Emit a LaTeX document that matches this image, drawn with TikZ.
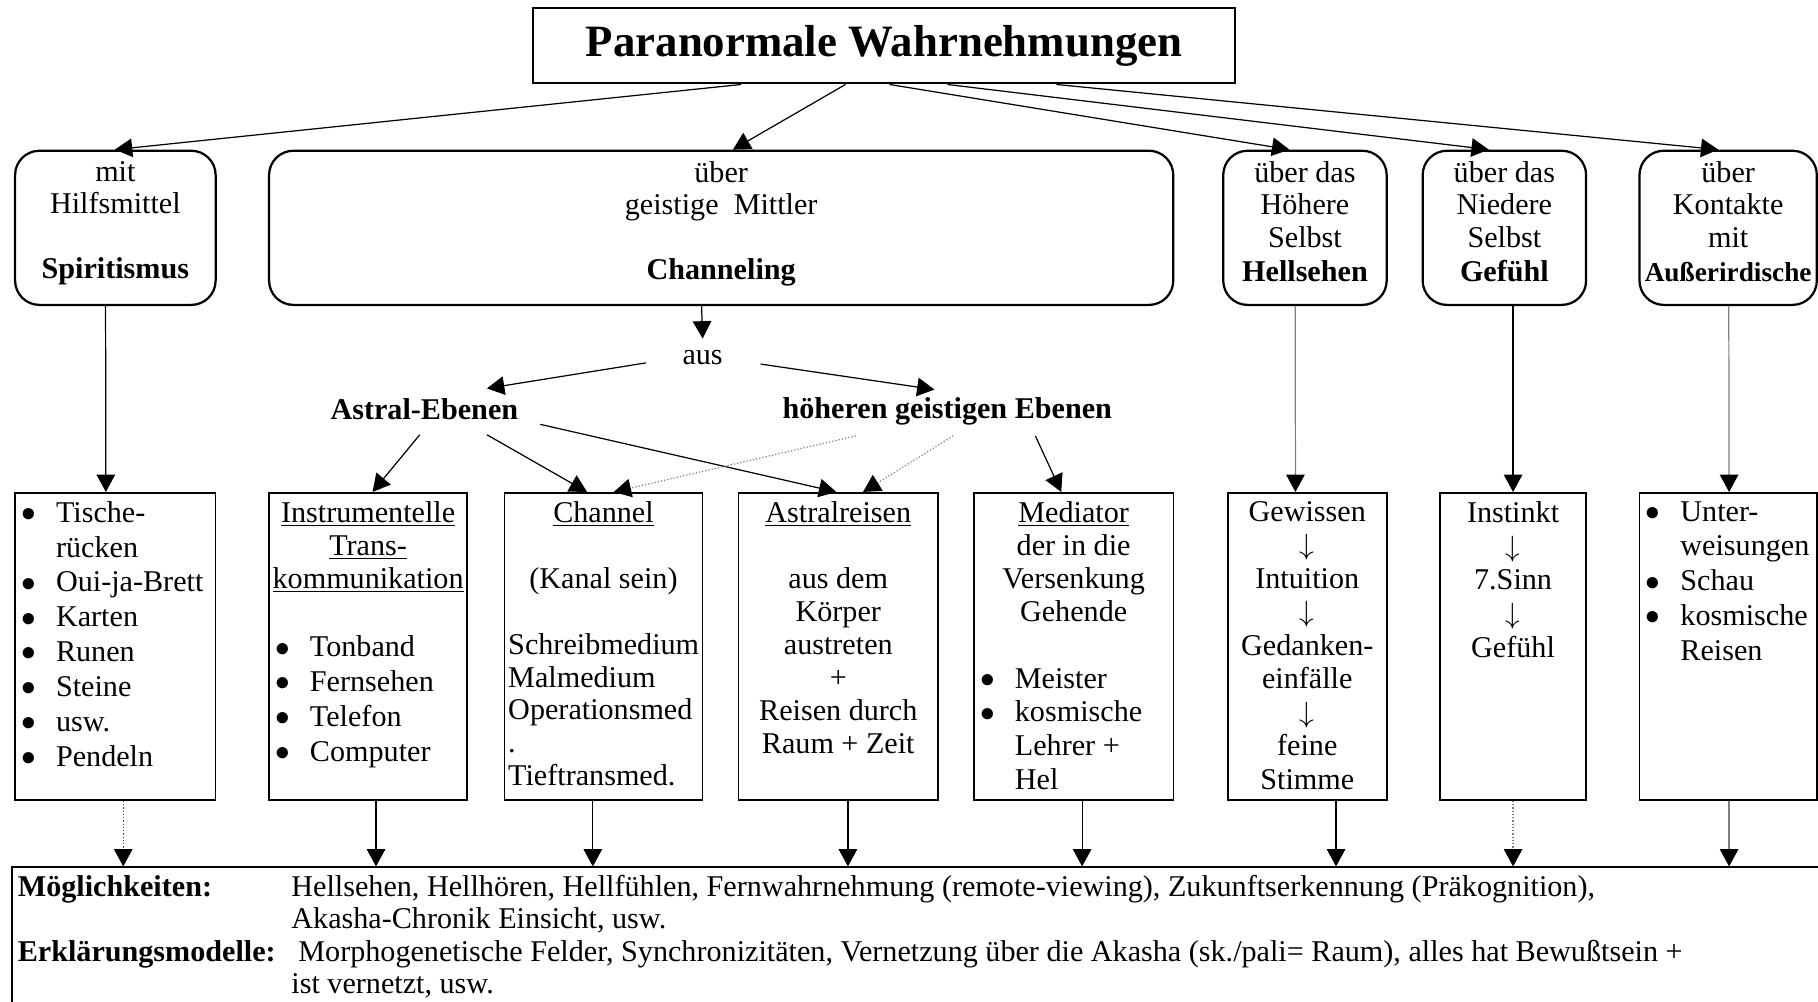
\documentclass[tikz,border=0pt]{standalone}
\usepackage{fontspec}
\setmainfont{Liberation Serif}
\usetikzlibrary{arrows.meta,calc}
\newcommand{\bulx}{\makebox[0.6cm][l]{\raisebox{0.3pt}{$\bullet$}}}
\newcommand{\indx}{\hspace*{0.6cm}}
\newcommand{\dnarr}{$\big\downarrow$}
\begin{document}
\begin{tikzpicture}[x=0.02cm,y=-0.02cm,
  font=\fontsize{14.8}{16.2}\selectfont,
  arr/.style={line width=0.6pt,-{Triangle[length=0.3cm,width=0.32cm,color=black]}},
  grayarr/.style={arr,draw=black!50},
  dotarr/.style={arr,draw=black!50,densely dotted},
  tbox/.style={draw,line width=1pt,inner sep=0pt,font=\fontsize{22}{26}\selectfont\bfseries},
  rbox/.style={draw,rounded corners=0.42cm,line width=1.1pt,inner sep=0pt,minimum height=2.66cm},
  sbox/.style={draw,line width=0.8pt,inner sep=0pt,minimum height=5.3cm},
  ttxt/.style={inner sep=0pt,align=center,anchor=north,font=\fontsize{14.8}{15.9}\selectfont},
  ctxt/.style={inner sep=0pt,align=center,anchor=north},
  ltxt/.style={inner sep=0pt,align=left,anchor=north west,font=\fontsize{14.8}{17.1}\selectfont},
  ptxt/.style={inner sep=0pt},
  btxt/.style={inner sep=0pt,anchor=base west}
]
\fill[white] (0,0) rectangle (1568,864);
\useasboundingbox (0,0) rectangle (1568,864);
\clip (0,0) rectangle (1568,864);

% title
\node[tbox,minimum width=12.1cm,minimum height=1.3cm] (title) at (762.5,39.5) {Paranormale Wahrnehmungen};

% top boxes
\node[rbox,minimum width=3.46cm] (sp) at (99.5,196.5) {};
\node[rbox,minimum width=15.6cm] (ch) at (622,196.5) {};
\node[rbox,minimum width=2.82cm] (hs) at (1125.5,196.5) {};
\node[rbox,minimum width=2.82cm] (gf) at (1297.5,196.5) {};
\node[rbox,minimum width=3.06cm] (ae) at (1490.5,196.5) {};

\node[ttxt] (spt) at (99.5,139) {mit\\Hilfsmittel\\[15.9pt]\textbf{Spiritismus}};
\node[ttxt] (cht) at (622,139) {über\\geistige\ \ Mittler\\[15.9pt]\textbf{Channeling}};
\node[ttxt] (hst) at (1125.5,139) {über das\\Höhere\\Selbst\\[1pt]\textbf{Hellsehen}};
\node[ttxt] (gft) at (1297.5,139) {über das\\Niedere\\Selbst\\[1pt]\textbf{Gefühl}};
\node[ttxt] (aet) at (1490.5,139) {über\\Kontakte\\mit\\[1pt]{\fontsize{13.4}{15.9}\selectfont\textbf{Außerirdische}}};

% middle labels
\node[ptxt] (aus) at (606,308) {aus};
\node[ptxt] (astral) at (366,353) {\textbf{Astral-Ebenen}};
\node[ptxt] (hge) at (817,355) {\textbf{höheren geistigen Ebenen}};

% bottom boxes
\node[sbox,minimum width=3.46cm] (b1) at (99.5,557.5) {};
\node[sbox,minimum width=3.42cm] (b2) at (317.5,557.5) {};
\node[sbox,minimum width=3.42cm] (b3) at (520.5,557.5) {};
\node[sbox,minimum width=3.44cm] (b4) at (723,557.5) {};
\node[sbox,minimum width=3.44cm] (b5) at (926,557.5) {};
\node[sbox,minimum width=2.74cm] (b6) at (1127.5,557.5) {};
\node[sbox,minimum width=2.52cm] (b7) at (1305,557.5) {};
\node[sbox,minimum width=3.06cm] (b8) at (1490.5,557.5) {};

\node[ltxt] (b1t) at (18,432) {\bulx Tische-\\\indx rücken\\\bulx Oui-ja-Brett\\\bulx Karten\\\bulx Runen\\\bulx Steine\\\bulx usw.\\\bulx Pendeln};
\node[ctxt,font=\fontsize{14.8}{16.2}\selectfont] (b2h) at (317.5,432) {\underline{Instrumentelle}\\\underline{Trans-}\\\underline{kommunikation}};
\node[ltxt] (b2l) at (237,548) {\bulx Tonband\\\bulx Fernsehen\\\bulx Telefon\\\bulx Computer};
\node[ctxt,font=\fontsize{14.8}{16.2}\selectfont] (b3h) at (520.5,432) {\underline{Channel}\\[16.2pt](Kanal sein)};
\node[ltxt,font=\fontsize{14.8}{16.1}\selectfont] (b3l) at (438,546) {Schreibmedium\\Malmedium\\Operationsmed\\.\\Tieftransmed.};
\node[ctxt,font=\fontsize{14.8}{16.2}\selectfont] (b4t) at (723,432) {\underline{Astralreisen}\\[16.2pt]aus dem\\Körper\\austreten\\+\\Reisen durch\\Raum + Zeit};
\node[ctxt,font=\fontsize{14.8}{16.2}\selectfont] (b5h) at (926,432) {\underline{Mediator}\\der in die\\Versenkung\\Gehende};
\node[ltxt,font=\fontsize{14.8}{16.5}\selectfont] (b5l) at (845,576) {\bulx Meister\\\bulx kosmische\\\indx Lehrer +\\\indx Hel};
\node[ctxt,font=\fontsize{14.8}{16.44}\selectfont] (b6t) at (1127.5,432) {Gewissen\\\dnarr\\Intuition\\\dnarr\\Gedanken-\\einfälle\\\dnarr\\feine\\Stimme};
\node[ctxt,font=\fontsize{14.8}{16.6}\selectfont] (b7t) at (1305,432) {Instinkt\\\dnarr\\7.Sinn\\\dnarr\\Gefühl};
\node[ltxt] (b8t) at (1419,432) {\bulx Unter-\\\indx weisungen\\\bulx Schau\\\bulx kosmische\\\indx Reisen};

% bottom box
\node[draw,line width=0.8pt,inner sep=0pt,minimum width=31.8cm,minimum height=3.04cm] (bb) at (805,824) {};
\node[btxt] (m1) at (15,773) {\textbf{Möglichkeiten:}};
\node[btxt] (m2) at (251,773) {Hellsehen, Hellhören, Hellfühlen, Fernwahrnehmung (remote-viewing), Zukunftserkennung (Präkognition),};
\node[btxt] (m3) at (251,801) {Akasha-Chronik Einsicht, usw.};
\node[btxt] (e1) at (15,829) {\textbf{Erklärungsmodelle:}};
\node[btxt] (e2) at (257,829) {Morphogenetische Felder, Synchronizitäten, Vernetzung über die Akasha (sk./pali= Raum), alles hat Bewußtsein +};
\node[btxt] (e3) at (251,857) {ist vernetzt, usw.};

% title to top boxes
\draw[arr] ($(title.south west)+(180,0)$) -- ($(sp.north west)+(87,0)$);
\draw[arr] ($(title.south west)+(270,0)$) -- ($(ch.north west)+(401,0)$);
\draw[arr] ($(title.south west)+(308,0)$) -- ($(hs.north west)+(58,0)$);
\draw[arr] ($(title.south west)+(358,0)$) -- ($(gf.north west)+(58,0)$);
\draw[arr] ($(title.south west)+(452,0)$) -- ($(ae.north west)+(69,0)$);

% verticals from top boxes
\draw[arr] ($(sp.south west)+(79,0)$) -- ($(b1.north west)+(79,0)$);
\draw[arr] ($(ch.south west)+(374,0)$) -- ($(aus.center)+(0,-16)$);
\draw[grayarr] ($(hs.south west)+(63,0)$) -- ($(b6.north west)+(59,0)$);
\draw[arr] (gf.south -| b7.north) -- (b7.north);
\draw[grayarr] ($(ae.south west)+(78,0)$) -- ($(b8.north west)+(78,0)$);

% from aus
\draw[arr] ($(aus.center)+(-49,5)$) -- ($(astral.center)+(54,-18)$);
\draw[arr] ($(aus.center)+(50,6)$) -- ($(hge.center)+(-11,-19)$);

% from Astral-Ebenen
\draw[arr] ($(astral.center)+(-4,22)$) -- ($(b2.north west)+(90,0)$);
\draw[arr] ($(astral.center)+(54,22)$) -- ($(b3.north west)+(72,0)$);
\draw[arr] ($(astral.center)+(100,13)$) -- ($(b4.north west)+(85,0)$);

% from hoeheren geistigen Ebenen
\draw[dotarr] ($(hge.center)+(-79,21)$) -- ($(b3.north west)+(95,0)$);
\draw[dotarr] ($(hge.center)+(5,21)$) -- ($(b4.north west)+(108,0)$);
\draw[arr] ($(hge.center)+(76,21)$) -- ($(b5.north west)+(76,0)$);

% bottom arrows
\draw[arr,densely dotted,draw=black!70] ($(b1.south west)+(94,0)$) -- ($(bb.north -| b1.south west)+(94,0)$);
\draw[arr] ($(b2.south west)+(93,0)$) -- ($(bb.north -| b2.south west)+(93,0)$);
\draw[arr] ($(b3.south west)+(77,0)$) -- ($(bb.north -| b3.south west)+(77,0)$);
\draw[arr] ($(b4.south west)+(95,0)$) -- ($(bb.north -| b4.south west)+(95,0)$);
\draw[arr] ($(b5.south west)+(94,0)$) -- ($(bb.north -| b5.south west)+(94,0)$);
\draw[arr] ($(b6.south west)+(94,0)$) -- ($(bb.north -| b6.south west)+(94,0)$);
\draw[dotarr] (b7.south) -- (bb.north -| b7.south);
\draw[grayarr] ($(b8.south west)+(78,0)$) -- ($(bb.north -| b8.south west)+(78,0)$);
\end{tikzpicture}
\end{document}
